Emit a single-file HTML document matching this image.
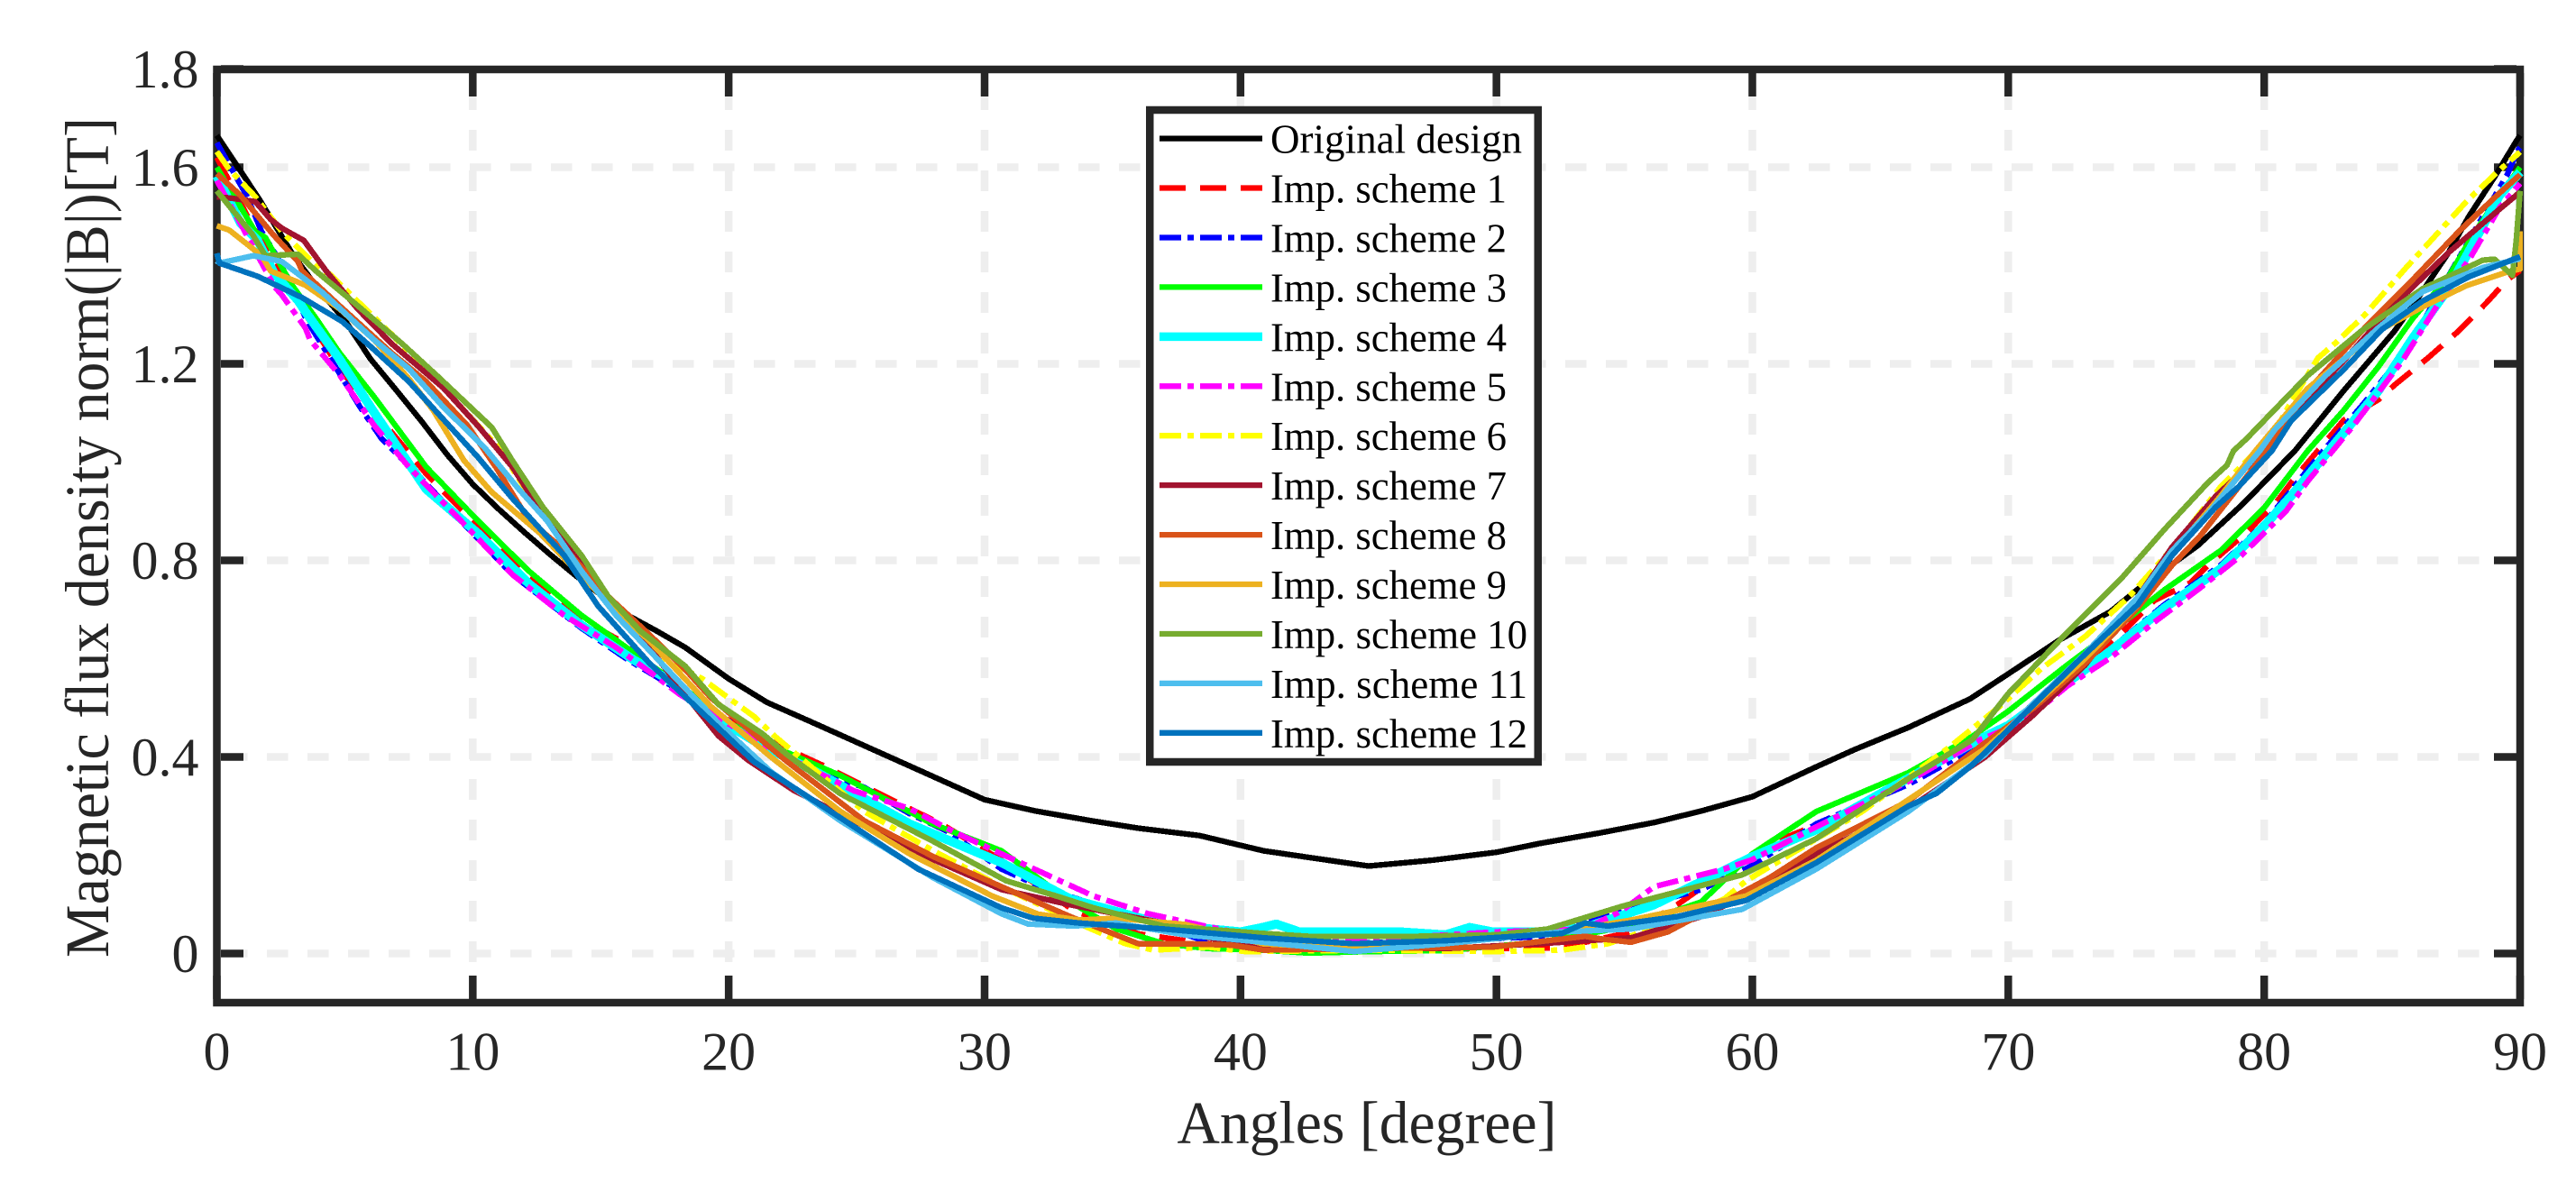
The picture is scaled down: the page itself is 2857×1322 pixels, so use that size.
<!DOCTYPE html>
<html lang="en">
<head>
<meta charset="utf-8">
<title>Magnetic flux density norm vs angle</title>
<style>
html,body{margin:0;padding:0;background:#fff;}
svg{display:block;}
text{font-family:"Liberation Serif","Times New Roman",serif;}
</style>
</head>
<body>
<svg id="chart" xmlns="http://www.w3.org/2000/svg" width="2857" height="1322" viewBox="0 0 2857 1322">
  <rect x="0" y="0" width="2857" height="1322" fill="#ffffff"/>
  <g id="grid"></g>
  <rect x="240.5" y="77" width="2554.5" height="1035" fill="none" stroke="#262626" stroke-width="8.5"/>
  <g id="ticks"></g>
  <g id="tick-labels" fill="#262626" font-size="60"></g>
  <g id="series" fill="none" shape-rendering="crispEdges"></g>
  <text x="1516" y="1267.5" font-size="67" fill="#262626" text-anchor="middle" textLength="421" lengthAdjust="spacingAndGlyphs">Angles [degree]</text>
  <text transform="translate(120,596) rotate(-90)" font-size="68.5" fill="#262626" text-anchor="middle" textLength="932" lengthAdjust="spacingAndGlyphs">Magnetic flux density norm(|B|)[T]</text>
  <g>
    <rect x="1275.25" y="122" width="430.5" height="723" fill="#ffffff" stroke="#262626" stroke-width="8.5"/>
    <g font-size="46" fill="#000000" lengthAdjust="spacingAndGlyphs">
      <g><line x1="1286" x2="1400" y1="153.6" y2="153.6" stroke="#000000" stroke-width="6.3"/><text x="1409" y="169.6" textLength="279" lengthAdjust="spacingAndGlyphs">Original design</text></g>
      <g><line x1="1286" x2="1400" y1="208.5" y2="208.5" stroke="#ff0000" stroke-width="6.3" stroke-dasharray="29 16"/><text x="1409" y="224.5" textLength="262" lengthAdjust="spacingAndGlyphs">Imp. scheme 1</text></g>
      <g><line x1="1286" x2="1400" y1="263.5" y2="263.5" stroke="#0000ff" stroke-width="6.3" stroke-dasharray="24 7 7 7"/><text x="1409" y="279.5" textLength="262" lengthAdjust="spacingAndGlyphs">Imp. scheme 2</text></g>
      <g><line x1="1286" x2="1400" y1="318.4" y2="318.4" stroke="#00ff00" stroke-width="6.3"/><text x="1409" y="334.4" textLength="262" lengthAdjust="spacingAndGlyphs">Imp. scheme 3</text></g>
      <g><line x1="1286" x2="1400" y1="373.4" y2="373.4" stroke="#00ffff" stroke-width="9.5"/><text x="1409" y="389.4" textLength="262" lengthAdjust="spacingAndGlyphs">Imp. scheme 4</text></g>
      <g><line x1="1286" x2="1400" y1="428.3" y2="428.3" stroke="#ff00ff" stroke-width="6.3" stroke-dasharray="24 7 7 7"/><text x="1409" y="444.3" textLength="262" lengthAdjust="spacingAndGlyphs">Imp. scheme 5</text></g>
      <g><line x1="1286" x2="1400" y1="483.2" y2="483.2" stroke="#ffff00" stroke-width="6.3" stroke-dasharray="24 7 7 7"/><text x="1409" y="499.2" textLength="262" lengthAdjust="spacingAndGlyphs">Imp. scheme 6</text></g>
      <g><line x1="1286" x2="1400" y1="538.1" y2="538.1" stroke="#A2142F" stroke-width="6.3"/><text x="1409" y="554.1" textLength="262" lengthAdjust="spacingAndGlyphs">Imp. scheme 7</text></g>
      <g><line x1="1286" x2="1400" y1="593.1" y2="593.1" stroke="#D95319" stroke-width="6.3"/><text x="1409" y="609.1" textLength="262" lengthAdjust="spacingAndGlyphs">Imp. scheme 8</text></g>
      <g><line x1="1286" x2="1400" y1="648" y2="648" stroke="#EDB120" stroke-width="6.3"/><text x="1409" y="664" textLength="262" lengthAdjust="spacingAndGlyphs">Imp. scheme 9</text></g>
      <g><line x1="1286" x2="1400" y1="703" y2="703" stroke="#77AC30" stroke-width="6.3"/><text x="1409" y="719" textLength="285" lengthAdjust="spacingAndGlyphs">Imp. scheme 10</text></g>
      <g><line x1="1286" x2="1400" y1="757.9" y2="757.9" stroke="#4DBEEE" stroke-width="6.3"/><text x="1409" y="773.9" textLength="285" lengthAdjust="spacingAndGlyphs">Imp. scheme 11</text></g>
      <g><line x1="1286" x2="1400" y1="812.8" y2="812.8" stroke="#0072BD" stroke-width="6.3"/><text x="1409" y="828.8" textLength="285" lengthAdjust="spacingAndGlyphs">Imp. scheme 12</text></g>
    </g>
  </g>
</svg>
<script>
// Axis tick values
const xTickValues = [0,10,20,30,40,50,60,70,80,90];
const yTickValues = [0,0.4,0.8,1.2,1.6,1.8];
const yTickText = ['0','0.4','0.8','1.2','1.6','1.8'];

// Series values: [angle in degrees, flux density in tesla]
const originalDesign = [[0,1.665],[1.63,1.537],[3,1.42],[4,1.35],[5,1.289],[6,1.21],[7,1.147],[8,1.083],[9,1.015],[10,0.955],[11,0.905],[12,0.858],[13,0.813],[14,0.77],[15,0.73],[16,0.69],[17.2,0.656],[18.3,0.623],[20,0.559],[21.5,0.511],[23.2,0.472],[25.3,0.423],[27.4,0.374],[30,0.313],[32,0.29],[34.2,0.27],[36,0.255],[38.4,0.24],[40.9,0.209],[43,0.193],[45,0.178],[47.5,0.19],[50,0.206],[51.7,0.224],[54,0.245],[56.2,0.267],[58,0.29],[60,0.319],[62.5,0.38],[64,0.415],[66.1,0.46],[68.5,0.518],[70,0.569],[72,0.638],[74,0.696],[75.1,0.743],[77.4,0.83],[79.15,0.914],[81.2,1.023],[83.1,1.145],[85.1,1.267],[86.1,1.341],[87.2,1.426],[88,1.5],[89,1.58],[89.85,1.653],[90,1.665]];
const scheme1 = [[0,1.62],[1.5,1.47],[3,1.34],[4.8,1.19],[6.2,1.1],[8.2,0.975],[10.2,0.87],[12.2,0.77],[14.25,0.68],[16,0.63],[18.5,0.52],[20.5,0.46],[22.75,0.405],[23.8,0.38],[27.06,0.295],[28.3,0.264],[30.66,0.19],[33.5,0.087],[36,0.04],[39.6,0.013],[40.9,0.007],[45,0.008],[50,0.01],[52.5,0.012],[55.3,0.044],[57.06,0.099],[59,0.17],[61.2,0.234],[64.3,0.3],[66.2,0.366],[69.1,0.43],[72,0.55],[74,0.63],[75.7,0.718],[77.1,0.754],[77.8,0.79],[79.3,0.856],[80.5,0.92],[81.2,0.968],[83.1,1.085],[84.46,1.127],[85.1,1.157],[86.4,1.212],[87.6,1.267],[88.7,1.325],[89.5,1.371],[90,1.39]];
const scheme2 = [[0,1.65],[1.16,1.543],[1.75,1.469],[2.54,1.402],[3.5,1.29],[4.8,1.18],[5.6,1.112],[6.43,1.048],[7.8,0.977],[9.66,0.874],[11.55,0.771],[14.25,0.662],[16,0.6],[17.6,0.55],[19.5,0.49],[21.3,0.43],[23.5,0.37],[25.3,0.338],[27.06,0.285],[28.5,0.25],[30.66,0.172],[32.45,0.13],[35.5,0.081],[38.4,0.029],[40.9,0.02],[45,0.022],[48,0.026],[52,0.035],[54.5,0.081],[58,0.13],[60,0.179],[62.5,0.264],[66.1,0.344],[69.1,0.43],[72.3,0.55],[74,0.62],[76.1,0.71],[78.3,0.79],[80,0.875],[82.1,1.01],[83.9,1.12],[85.7,1.237],[87.05,1.365],[88.4,1.487],[89.5,1.585],[89.9,1.634],[90,1.64]];
const scheme3 = [[0,1.6],[1.5,1.469],[1.9,1.457],[2.9,1.363],[3.87,1.293],[4.8,1.222],[6.16,1.132],[8.18,0.99],[10.2,0.881],[12.2,0.778],[14.25,0.688],[16.67,0.598],[18.5,0.53],[20,0.47],[21.67,0.423],[24.37,0.362],[27.96,0.264],[30.66,0.209],[33.35,0.105],[35.15,0.05],[37,0.02],[38.74,0.01],[40.9,0.007],[42.65,0.001],[45,0.004],[48,0.006],[51.66,0.023],[55.26,0.056],[58,0.105],[60,0.203],[62.5,0.289],[66.1,0.368],[67.4,0.406],[68.6,0.442],[70,0.493],[72.3,0.587],[74,0.653],[76.1,0.74],[78.3,0.82],[80,0.907],[81.7,1.023],[83.1,1.105],[84.46,1.194],[85.8,1.292],[87.2,1.377],[88.1,1.457],[89.1,1.536],[90,1.6]];
const scheme4 = [[0,1.582],[0.92,1.487],[1.6,1.451],[2.25,1.383],[3.17,1.329],[3.46,1.306],[4.8,1.209],[6.16,1.1],[8.18,0.945],[10.2,0.855],[12.2,0.752],[14.25,0.668],[16.27,0.598],[17.6,0.559],[19.5,0.48],[21.3,0.423],[23.47,0.368],[27.06,0.264],[30.66,0.185],[33.35,0.111],[37,0.059],[40,0.044],[40.85,0.053],[41.4,0.06],[42.3,0.044],[46.25,0.044],[48,0.038],[48.95,0.053],[49.85,0.044],[51.66,0.044],[53.46,0.053],[56.16,0.099],[60,0.197],[62.5,0.252],[65.2,0.331],[69.1,0.442],[70,0.464],[72.3,0.551],[74,0.616],[76.1,0.703],[78.3,0.783],[80,0.87],[81.05,0.931],[83.1,1.059],[84.46,1.145],[85.8,1.252],[87.2,1.353],[88.3,1.457],[89.2,1.543],[90,1.59]];
const scheme5 = [[0,1.573],[0.97,1.481],[2.25,1.357],[2.54,1.34],[3.46,1.273],[3.64,1.249],[4.8,1.177],[6.16,1.074],[7.5,0.99],[9.53,0.881],[11.55,0.771],[13.57,0.688],[15.6,0.623],[17,0.57],[18.1,0.527],[21.3,0.426],[24.9,0.331],[27.06,0.295],[28.86,0.246],[31.4,0.185],[34.25,0.117],[36.4,0.081],[38.6,0.056],[40.9,0.032],[44.45,0.026],[50,0.044],[53.46,0.05],[54.9,0.087],[56.16,0.136],[58.9,0.172],[60,0.191],[62.5,0.258],[66.1,0.35],[68.9,0.435],[70.6,0.471],[72.3,0.544],[74,0.602],[75.7,0.674],[77.4,0.74],[79.15,0.812],[80.85,0.9],[81.7,0.961],[83.5,1.075],[85.4,1.206],[86.8,1.322],[88.1,1.42],[89.2,1.518],[90,1.567]];
const scheme6 = [[0,1.632],[0.45,1.598],[1.5,1.54],[2.54,1.469],[3.95,1.396],[4.4,1.383],[6.83,1.26],[8.85,1.151],[11,1.03],[12.5,0.91],[14.5,0.78],[16,0.68],[17.5,0.6],[18.97,0.559],[21,0.482],[21.85,0.44],[25.3,0.289],[28,0.209],[30.66,0.136],[33.9,0.056],[35.5,0.02],[36.6,0.007],[38.74,0.013],[40.2,0.004],[45,0.007],[49.85,0.004],[52.56,0.007],[54.36,0.02],[57.06,0.068],[58.9,0.111],[59.76,0.148],[64.3,0.289],[67.7,0.42],[69.6,0.5],[71.3,0.58],[73,0.645],[74.7,0.725],[76.5,0.83],[78.3,0.95],[80.4,1.06],[80.9,1.108],[82.1,1.212],[82.8,1.243],[83.9,1.298],[85.55,1.396],[86.5,1.45],[87.9,1.53],[89.1,1.59],[90,1.631]];
const scheme7 = [[0,1.54],[0.57,1.537],[1.5,1.53],[2.1,1.494],[2.54,1.476],[3.4,1.451],[4.27,1.389],[5.5,1.312],[6.83,1.241],[8.85,1.151],[10.2,1.074],[11.55,0.99],[12.9,0.881],[14.25,0.791],[15.05,0.733],[16.9,0.623],[18.3,0.527],[19.6,0.443],[20.77,0.393],[22.57,0.331],[24.9,0.27],[28,0.191],[30.66,0.13],[33.35,0.099],[37,0.062],[38.74,0.032],[40.9,0.01],[44.45,0.013],[48,0.01],[51.66,0.02],[55.26,0.032],[58,0.075],[60,0.124],[62.5,0.203],[66.1,0.295],[69.1,0.4],[71,0.486],[73,0.587],[75.06,0.725],[76.4,0.827],[78.1,0.93],[80,1.023],[81.7,1.13],[83,1.2],[85,1.316],[87.2,1.426],[89,1.506],[89.85,1.543],[90,1.55]];
const scheme8 = [[0,1.587],[0.92,1.543],[2.2,1.463],[3.17,1.408],[3.33,1.389],[4.8,1.318],[6.83,1.222],[8.18,1.164],[9.8,1.074],[10.9,0.99],[12.2,0.881],[13.84,0.81],[15.3,0.726],[16.9,0.649],[18.3,0.578],[19.3,0.521],[22.3,0.39],[25.3,0.27],[28,0.197],[30.66,0.136],[33.35,0.075],[36,0.02],[37.84,0.02],[39.64,0.017],[40.9,0.007],[45,0.01],[49.85,0.013],[53.46,0.035],[54.2,0.029],[55.26,0.023],[56.7,0.044],[58.9,0.105],[60.67,0.154],[62.5,0.215],[66.1,0.31],[69.1,0.429],[71,0.5],[73,0.59],[75,0.7],[76.4,0.79],[77.5,0.85],[78.8,0.936],[80.1,1.023],[81.7,1.145],[84.05,1.28],[85.8,1.371],[87.6,1.469],[89.1,1.543],[90,1.585]];
const scheme9 = [[0,1.481],[0.49,1.472],[1.75,1.42],[2.1,1.389],[3.46,1.36],[4.8,1.312],[6.16,1.248],[7.5,1.17],[8.45,1.106],[9.66,1.003],[10.74,0.939],[12.63,0.855],[13.7,0.797],[15.3,0.713],[16.9,0.636],[19.3,0.503],[21.67,0.399],[24.37,0.289],[27.06,0.203],[30.3,0.117],[32.1,0.08],[33.7,0.068],[35.15,0.072],[37.84,0.059],[39,0.045],[40.85,0.02],[44.45,0.01],[48,0.023],[52.56,0.044],[55.26,0.068],[59.76,0.117],[62.5,0.19],[66.1,0.313],[69.1,0.417],[70.6,0.486],[73,0.6],[75.06,0.71],[76.5,0.82],[78.3,0.931],[79.66,1.023],[81.7,1.15],[84.46,1.267],[86.2,1.316],[87.9,1.359],[89.5,1.387],[90,1.393],[90,1.47]];
const scheme10 = [[0,1.552],[1.4,1.463],[1.9,1.42],[3.17,1.423],[3.87,1.389],[5.35,1.325],[7.24,1.241],[8.58,1.177],[10.74,1.071],[11.55,1.003],[12.76,0.907],[14.25,0.81],[15.3,0.726],[16.55,0.656],[18.3,0.585],[19.6,0.507],[21.3,0.448],[22.3,0.404],[24.37,0.325],[28,0.228],[30.84,0.148],[32.8,0.117],[34.25,0.093],[37,0.056],[40.85,0.041],[42.65,0.035],[46.97,0.035],[50,0.038],[52,0.05],[54.9,0.096],[59.6,0.16],[62.5,0.234],[66.1,0.356],[68.6,0.435],[70,0.529],[72.3,0.653],[74.4,0.762],[76.1,0.863],[77.8,0.958],[78.55,0.994],[78.8,1.023],[79.3,1.047],[81.7,1.176],[83.8,1.267],[86.2,1.353],[88.55,1.411],[89,1.413],[89.7,1.38],[89.85,1.45],[90,1.552]];
const scheme11 = [[0,1.41],[0.1,1.405],[1.43,1.42],[2.54,1.408],[4.13,1.345],[6.16,1.248],[7.5,1.19],[8.85,1.112],[10.47,1.029],[11.8,0.945],[12.9,0.881],[14.25,0.778],[15.6,0.688],[18.3,0.54],[19.6,0.469],[21.65,0.37],[24.37,0.27],[28,0.154],[30.66,0.081],[31.7,0.06],[33.5,0.056],[35.15,0.062],[37.84,0.038],[40.9,0.023],[44.45,0.004],[48,0.02],[52.56,0.044],[55.26,0.05],[59.6,0.09],[62.5,0.172],[66.1,0.289],[69.1,0.405],[70.6,0.49],[73,0.61],[75.06,0.725],[76.4,0.82],[77.8,0.895],[79.83,1.023],[80.4,1.065],[82.4,1.176],[84.46,1.273],[86.2,1.347],[88.55,1.396],[90,1.414]];
const scheme12 = [[0,1.425],[0.1,1.405],[1.6,1.378],[3.32,1.335],[4.9,1.286],[6.16,1.228],[7.5,1.164],[8.85,1.087],[10.2,1.01],[11.55,0.926],[13.57,0.81],[14.9,0.707],[16.9,0.591],[19,0.488],[21,0.39],[24.37,0.276],[27.4,0.172],[30.66,0.093],[31.9,0.072],[33.7,0.062],[37,0.05],[40.9,0.032],[44.45,0.02],[48,0.026],[52.56,0.041],[53.46,0.062],[54.36,0.056],[57.06,0.075],[59.76,0.108],[62.5,0.185],[66.1,0.3],[67.2,0.326],[68.6,0.384],[70.6,0.486],[73,0.609],[75.06,0.71],[76.4,0.81],[78.1,0.908],[79,0.95],[80.3,1.023],[81.05,1.084],[83.1,1.188],[84.6,1.27],[86.2,1.328],[88,1.377],[90,1.418]];

// Series list (drawn in this order, later series on top)
const seriesValues = [originalDesign,scheme1,scheme2,scheme3,scheme4,scheme5,scheme6,scheme7,scheme8,scheme9,scheme10,scheme11,scheme12];
const seriesNames = ['original-design','scheme-1','scheme-2','scheme-3','scheme-4','scheme-5','scheme-6','scheme-7','scheme-8','scheme-9','scheme-10','scheme-11','scheme-12'];
const seriesColors = ['#000000','#ff0000','#0000ff','#00ff00','#00ffff','#ff00ff','#ffff00','#A2142F','#D95319','#EDB120','#77AC30','#4DBEEE','#0072BD'];
const seriesWidths = [6.3,6.3,6.3,6.3,10,6.3,6.3,6.3,6.3,6.3,6.3,6.3,6.3];
const seriesDashes = ['','29 16','24 7 7 7','','','24 7 7 7','24 7 7 7','','','','','',''];

// Axis functions
const X_MIN = 0, X_MAX = 90, Y_MIN = -0.1, Y_MAX = 1.8;
const LEFT = 240.5, RIGHT = 2795, TOP = 76.5, BOTTOM = 1112;
function xScale(v){ return LEFT + (v - X_MIN) / (X_MAX - X_MIN) * (RIGHT - LEFT); }
function yScale(v){ return BOTTOM - (v - Y_MIN) / (Y_MAX - Y_MIN) * (BOTTOM - TOP); }

const NS = 'http://www.w3.org/2000/svg';
function make(tag, attrs, parent){
  const el = document.createElementNS(NS, tag);
  for (const k in attrs) el.setAttribute(k, attrs[k]);
  parent.appendChild(el);
  return el;
}

const gridG = document.getElementById('grid');
const ticksG = document.getElementById('ticks');
const labelsG = document.getElementById('tick-labels');
const seriesG = document.getElementById('series');
const TICK_COLOR = '#262626', GRID_COLOR = '#eeeeee', TICK_WIDTH = 8.5;

// Grid
xTickValues.forEach(function(v){
  if (v === X_MIN || v === X_MAX) return;
  const g = make('line', {x1:xScale(v), x2:xScale(v), y1:99, y2:1108, stroke:GRID_COLOR, 'stroke-width':TICK_WIDTH, 'stroke-dasharray':'23 22'}, gridG);
  
  
});
yTickValues.forEach(function(v){
  if (v === Y_MAX) return;
  const g = make('line', {x1:251, x2:2790, y1:yScale(v), y2:yScale(v), stroke:GRID_COLOR, 'stroke-width':TICK_WIDTH, 'stroke-dasharray':'23.5 21.5'}, gridG);
  
  
});

// Ticks and labels
xTickValues.forEach(function(v){
  const px = xScale(v);
  const t1 = make('line', {x1:px, x2:px, y1:1108, y2:1082, stroke:TICK_COLOR, 'stroke-width':TICK_WIDTH}, ticksG);
  
  
  const t2 = make('line', {x1:px, x2:px, y1:81, y2:107, stroke:TICK_COLOR, 'stroke-width':TICK_WIDTH}, ticksG);
  
  
  const label = make('text', {x:px, y:1186.5, 'text-anchor':'middle'}, labelsG);
  label.textContent = String(v);
  
  
});
yTickValues.forEach(function(v, i){
  const py = yScale(v);
  const t1 = make('line', {x1:245, x2:270, y1:py, y2:py, stroke:TICK_COLOR, 'stroke-width':TICK_WIDTH}, ticksG);
  
  
  const t2 = make('line', {x1:2791, x2:2766, y1:py, y2:py, stroke:TICK_COLOR, 'stroke-width':TICK_WIDTH}, ticksG);
  
  
  const label = make('text', {x:220.5, y:py + 20.5, 'text-anchor':'end'}, labelsG);
  label.textContent = yTickText[i];
  
  
});

// Series
seriesValues.forEach(function(values, i){
  const pts = values.map(function(p){ return xScale(p[0]).toFixed(1) + ',' + yScale(p[1]).toFixed(1); }).join(' ');
  const attrs = {points:pts, stroke:seriesColors[i], 'stroke-width':seriesWidths[i], 'stroke-linejoin':'round'};
  if (seriesDashes[i]) attrs['stroke-dasharray'] = seriesDashes[i];
  const line = make('polyline', attrs, seriesG);
  
  
});
</script>
</body>
</html>
